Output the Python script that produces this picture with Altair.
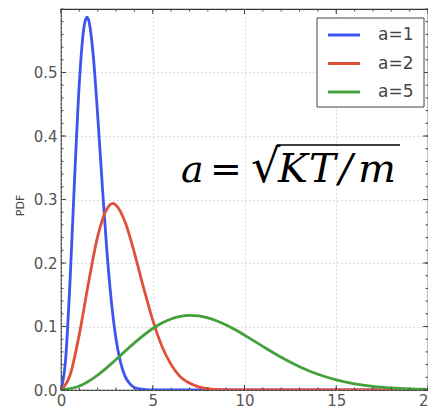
import altair as alt
import pandas as pd

# Values (Maxwell PDF curves)
x_a1 = [0, 0.25, 0.5, 0.75, 1.0, 1.25, 1.41, 1.5, 1.75, 2.0, 2.25, 2.5, 2.75, 3.0, 3.25, 3.5, 3.75, 4.0, 4.5, 5, 6, 8, 20]
y_a1 = [0, 0.048, 0.176, 0.339, 0.484, 0.571, 0.587, 0.583, 0.529, 0.432, 0.322, 0.219, 0.138, 0.080, 0.043, 0.021, 0.010, 0.004, 0.001, 0.0, 0, 0, 0]

x_a2 = [0, 0.5, 1, 1.5, 2, 2.5, 2.83, 3, 3.5, 4, 4.5, 5, 5.5, 6, 6.5, 7, 7.5, 8, 9, 10, 12, 20]
y_a2 = [0, 0.024, 0.088, 0.169, 0.242, 0.285, 0.294, 0.291, 0.264, 0.216, 0.161, 0.110, 0.069, 0.040, 0.021, 0.011, 0.005, 0.002, 0.0003, 0.0, 0, 0]

x_a5 = [0, 1, 2, 3, 4, 5, 5.5, 6, 6.5, 7, 7.5, 8, 8.5, 9, 9.5, 10, 11, 12, 13, 14, 15, 16, 17, 18, 19, 20]
y_a5 = [0, 0.0063, 0.0236, 0.048, 0.0742, 0.0968, 0.1054, 0.1119, 0.1159, 0.1174, 0.1166, 0.1136, 0.1087, 0.1023, 0.0948, 0.0864, 0.0687, 0.0516, 0.0367, 0.0248, 0.016, 0.0098, 0.0057, 0.0032, 0.0017, 0.0009]

series_names = ["a=1", "a=2", "a=5"]
series_colors = ["#3d55ee", "#e0503a", "#44a03c"]

x_major = [0, 5, 10, 15, 20]
y_major = [0.0, 0.1, 0.2, 0.3, 0.4, 0.5]
x_minor = list(range(0, 21))
y_minor = [i / 50 for i in range(0, 31)]

formula_glyphs = ["a", "=", "√", "K", "T", "/", "m"]

W, H = 367, 381

rows = []
for name, xs, ys in zip(series_names, [x_a1, x_a2, x_a5], [y_a1, y_a2, y_a5]):
    for xv, yv in zip(xs, ys):
        rows.append({"x": xv, "y": yv, "series": name})
df = pd.DataFrame(rows)

xscale = alt.Scale(domain=[0, 20], nice=False, zero=False)
yscale = alt.Scale(domain=[0, 0.6], nice=False, zero=False)

lines = alt.Chart(df).mark_line(strokeWidth=2.8, interpolate="monotone", clip=True).encode(
    x=alt.X("x:Q", scale=xscale, axis=alt.Axis(
        values=x_major, grid=True, gridDash=[1, 3], gridColor="#b8b8b8", gridWidth=1,
        ticks=False, domain=False, labelFontSize=15, labelColor="#555", labelFont="DejaVu Sans",
        labelPadding=3, title=None, labelFlush=False)),
    y=alt.Y("y:Q", scale=yscale, axis=alt.Axis(
        values=y_major, format=".1f", grid=True, gridDash=[1, 3], gridColor="#b8b8b8", gridWidth=1,
        ticks=False, domain=False, labelFontSize=15, labelColor="#555", labelFont="DejaVu Sans",
        labelPadding=4, title="PDF", titleFontSize=11, titleFontWeight="normal", titleColor="#444",
        titleFont="DejaVu Sans", titleX=-41, titleY=196, titleAngle=270, titleAlign="center",
        titleBaseline="middle", labelFlush=False)),
    color=alt.Color("series:N", scale=alt.Scale(domain=series_names, range=series_colors),
                    legend=None),
)

xmaj = pd.DataFrame({"v": x_major})
ymaj = pd.DataFrame({"v": y_major})
xmin = pd.DataFrame({"v": x_minor})
ymin = pd.DataFrame({"v": y_minor})

tick_color = "#444"
def xticks(d, length):
    b = alt.Chart(d).mark_rule(color=tick_color, strokeWidth=1).encode(
        x=alt.X("v:Q", scale=xscale), y=alt.value(H), y2=alt.value(H - length))
    t = alt.Chart(d).mark_rule(color=tick_color, strokeWidth=1).encode(
        x=alt.X("v:Q", scale=xscale), y=alt.value(0), y2=alt.value(length))
    return b + t

def yticks(d, length):
    l = alt.Chart(d).mark_rule(color=tick_color, strokeWidth=1).encode(
        y=alt.Y("v:Q", scale=yscale), x=alt.value(0), x2=alt.value(length))
    r = alt.Chart(d).mark_rule(color=tick_color, strokeWidth=1).encode(
        y=alt.Y("v:Q", scale=yscale), x=alt.value(W), x2=alt.value(W - length))
    return l + r

ticks = xticks(xmaj, 5) + xticks(xmin, 2.5) + yticks(ymaj, 5) + yticks(ymin, 2.5)

# legend (drawn like matplotlib's boxed legend)
one = pd.DataFrame({"k": [0]})
leg_box = alt.Chart(one).mark_rect(fill="white", stroke="#444", strokeWidth=1).encode(
    x=alt.value(256), x2=alt.value(363), y=alt.value(9), y2=alt.value(98))
leg_layers = [leg_box]
for i, (name, col) in enumerate(zip(series_names, series_colors)):
    ry = 26 + i * 28.5
    d = pd.DataFrame({"t": [name]})
    leg_layers.append(alt.Chart(d).mark_rule(color=col, strokeWidth=3).encode(
        x=alt.value(267), x2=alt.value(299), y=alt.value(ry)))
    leg_layers.append(alt.Chart(d).mark_text(font="DejaVu Sans", fontSize=17, color="#444",
                                             align="left", baseline="middle").encode(
        text="t:N", x=alt.value(317), y=alt.value(ry)))

# formula a = sqrt(KT/m)
glyph_x = [120, 149, 190, 217, 248, 278, 297]
glyph_size = [38, 38, 46, 40, 40, 40, 40]
glyph_style = ["italic", "normal", "normal", "italic", "italic", "italic", "italic"]
f_layers = []
for g, gx, gs, st in zip(formula_glyphs, glyph_x, glyph_size, glyph_style):
    d = pd.DataFrame({"t": [g]})
    f_layers.append(alt.Chart(d).mark_text(font="DejaVu Serif", fontStyle=st, fontSize=gs,
                                           align="left", baseline="alphabetic", color="black").encode(
        text="t:N", x=alt.value(gx), y=alt.value(173)))
bar = alt.Chart(one).mark_rule(color="black", strokeWidth=1.5).encode(
    x=alt.value(216), x2=alt.value(339), y=alt.value(136))

chart = alt.layer(lines, ticks, *leg_layers, *f_layers, bar).properties(
    width=W, height=H,
    autosize=alt.AutoSizeParams(type="none"),
    padding={"left": 53, "top": 1, "right": 0, "bottom": 20},
).configure_view(stroke="#333", strokeWidth=1.2)

chart.save("out.html", embed_options={"renderer": "svg", "actions": False})
